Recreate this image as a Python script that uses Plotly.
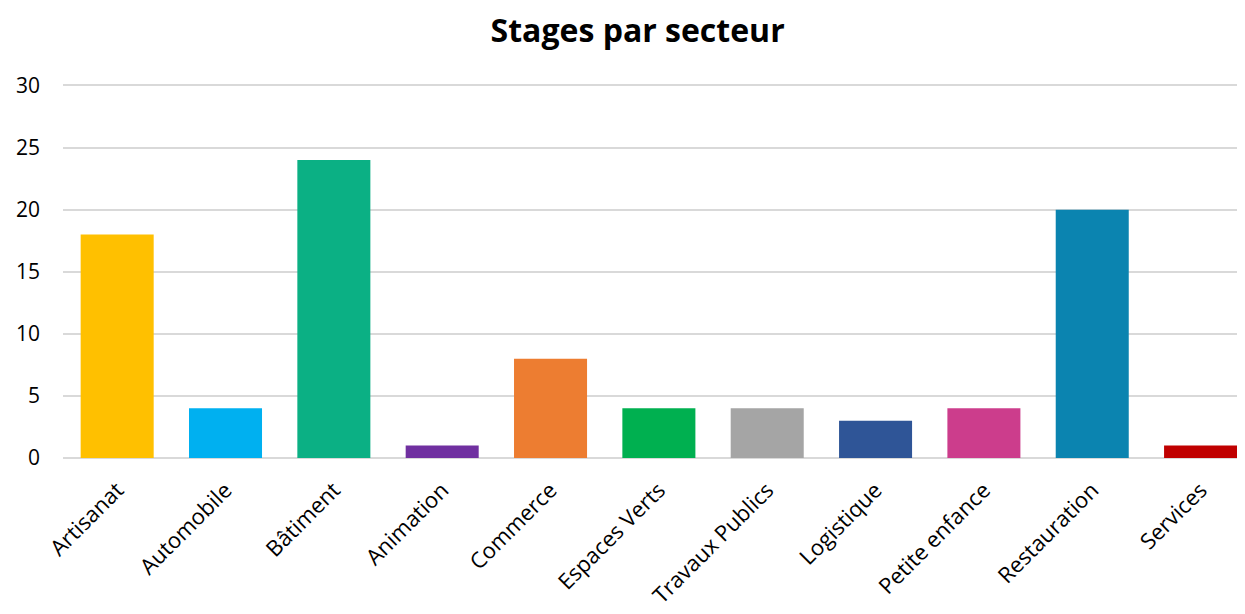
import plotly.graph_objects as go

# Data
sectors = [
    "Artisanat", "Automobile", "Bâtiment", "Animation", "Commerce",
    "Espaces Verts", "Travaux Publics", "Logistique", "Petite enfance",
    "Restauration", "Services",
]
stages = [18, 4, 24, 1, 8, 4, 4, 3, 4, 20, 1]
colors = [
    "#FFC000", "#00B0F0", "#0BB084", "#7030A0", "#ED7D31",
    "#00B050", "#A5A5A5", "#2F5597", "#CC3D8C", "#0B84B0", "#C00000",
]
y_ticks = [0, 5, 10, 15, 20, 25, 30]

_FONT = "Open Sans, Lato, sans-serif"

fig = go.Figure()
fig.add_bar(
    x=sectors,
    y=stages,
    marker=dict(color=colors, line=dict(width=0)),
    hovertemplate="%{x}: %{y}<extra></extra>",
)

# The page body keeps the browser's 8px margin, so the figure is sized to
# end exactly at the window edge.
fig.update_layout(
    width=1237,
    height=606,
    paper_bgcolor="white",
    plot_bgcolor="white",
    margin=dict(l=55, r=0, t=75, b=156),
    bargap=0.326,
    showlegend=False,
    font=dict(family=_FONT, color="#000000", size=21),
    title=dict(
        text="<b>Stages par secteur</b>",
        x=0.509,
        xanchor="center",
        y=0.963,
        yanchor="middle",
        font=dict(family=_FONT, size=32, color="#000000"),
    ),
)
fig.update_xaxes(
    range=[-0.5, 10.41],
    tickangle=-45,
    tickfont=dict(size=22),
    showgrid=False,
    showline=False,
    ticks="",
    automargin=False,
    ticklabelstandoff=14,
)
fig.update_yaxes(
    range=[0, 30.2],
    tickvals=y_ticks,
    tickfont=dict(size=21),
    gridcolor="#D9D9D9",
    gridwidth=1.5,
    zeroline=True,
    zerolinecolor="#D9D9D9",
    zerolinewidth=1.5,
    ticks="",
    automargin=False,
    ticklabelstandoff=22,
)

fig.write_html("out.html")
